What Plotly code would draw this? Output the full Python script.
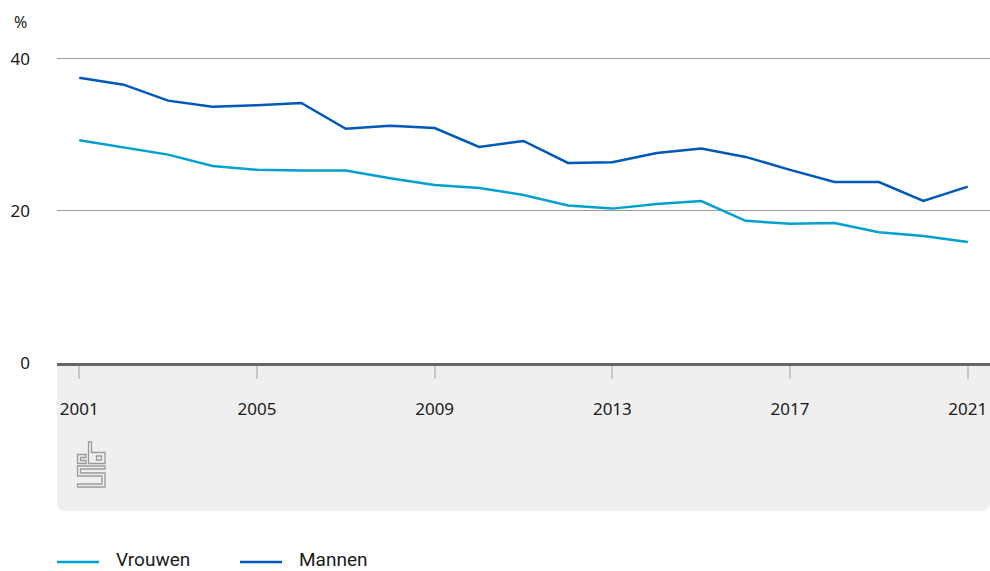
import plotly.graph_objects as go

# Data
jaren = list(range(2001, 2022))
vrouwen = [29.3, 28.3, 27.4, 25.9, 25.4, 25.3, 25.3, 24.3, 23.4, 23.0, 22.1,
           20.7, 20.3, 20.9, 21.3, 18.7, 18.3, 18.4, 17.2, 16.7, 15.9]
mannen = [37.5, 36.6, 34.5, 33.7, 33.9, 34.2, 30.8, 31.2, 30.9, 28.4, 29.2,
          26.3, 26.4, 27.6, 28.2, 27.1, 25.4, 23.8, 23.8, 21.3, 23.2]
x_ticks = [2001, 2005, 2009, 2013, 2017, 2021]
y_ticks = [0, 20, 40]
series = [("Vrouwen", vrouwen), ("Mannen", mannen)]

COR_VROUWEN = "#00a1cd"
COR_MANNEN = "#0058b8"
cores = [COR_VROUWEN, COR_MANNEN]

# Área do gráfico em pixels
W, H = 990, 571
L, R, B = 57, 990, 363
Y_MAX = 40.5
T = round(B - Y_MAX * 7.6)


def px(x):
    return (x - L) / (R - L)


def py(y):
    return (B - y) / (B - T)


def pad(cmds):
    # lista de (letra, x, y) em pixels -> path em coordenadas paper
    return " ".join(f"{c} {px(x):.5f},{py(y):.5f}" for c, x, y in cmds) + " Z"


fig = go.Figure()
for (nome, valores), cor in zip(series, cores):
    fig.add_trace(go.Scatter(x=jaren, y=valores, name=nome, mode="lines",
                             line=dict(color=cor, width=2.5)))

shapes = []
# Painel cinza com cantos arredondados embaixo
r = 8
panel = (f"M {px(L):.5f},{py(B):.5f} L {px(R):.5f},{py(B):.5f} "
         f"L {px(R):.5f},{py(511 - r):.5f} Q {px(R):.5f},{py(511):.5f} {px(R - r):.5f},{py(511):.5f} "
         f"L {px(L + r):.5f},{py(511):.5f} Q {px(L):.5f},{py(511):.5f} {px(L):.5f},{py(511 - r):.5f} Z")
shapes.append(dict(type="path", path=panel, xref="paper", yref="paper",
                   fillcolor="#efefef", line=dict(width=0), layer="below"))

# Logo CBS (aproximado)
logo = [
    [("M", 86, 454.5), ("L", 77.5, 454.5), ("L", 77.5, 463.5), ("L", 86, 463.5),
     ("L", 86, 460.5), ("L", 80.5, 460.5), ("L", 80.5, 457.5), ("L", 86, 457.5)],
    [("M", 88.5, 442), ("L", 91.5, 442), ("L", 91.5, 452.5), ("L", 105, 452.5),
     ("L", 105, 463.5), ("L", 88.5, 463.5)],
    [("M", 96.5, 456), ("L", 101.5, 456), ("L", 101.5, 460), ("L", 96.5, 460)],
    [("M", 77.5, 466), ("L", 105, 466), ("L", 105, 469), ("L", 80.5, 469),
     ("L", 80.5, 473), ("L", 105, 473), ("L", 105, 487), ("L", 77.5, 487),
     ("L", 77.5, 484), ("L", 102, 484), ("L", 102, 476), ("L", 77.5, 476)],
]
for p in logo:
    shapes.append(dict(type="path", path=pad(p), xref="paper", yref="paper",
                       line=dict(color="#9a9a9a", width=1.3), layer="above"))

# Legenda manual (linha + texto)
annotations = [dict(text="%", x=px(20), y=py(22), xref="paper", yref="paper",
                    showarrow=False, xanchor="center", yanchor="middle",
                    font=dict(size=16))]
leg_x = [57, 240]
leg_y = 559
for (nome, _), cor, x0 in zip(series, cores, leg_x):
    shapes.append(dict(type="line", xref="paper", yref="paper",
                       x0=px(x0), x1=px(x0 + 42), y0=py(562), y1=py(562),
                       line=dict(color=cor, width=2.5)))
    annotations.append(dict(text=nome, x=px(x0 + 58), y=py(leg_y), xref="paper", yref="paper",
                            showarrow=False, xanchor="left", yanchor="middle", borderpad=0,
                            font=dict(size=19, family="Roboto, sans-serif", color="#1a1a1a")))

fig.update_layout(
    width=W, height=H,
    margin=dict(l=L, r=W - R, t=T, b=H - B, pad=0),
    paper_bgcolor="white", plot_bgcolor="white",
    font=dict(family="Noto Sans, sans-serif", size=17, color="#1a1a1a"),
    shapes=shapes,
    annotations=annotations,
    showlegend=False,
)

fig.update_xaxes(range=[2000.5, 2021.5], tickvals=x_ticks, showgrid=False,
                 showline=True, linecolor="#666666", linewidth=3,
                 ticks="outside", ticklen=13, tickcolor="#c8c8c8", tickwidth=1.5,
                 ticklabelstandoff=16, zeroline=False, automargin=False)
fig.update_yaxes(range=[0, Y_MAX], tickvals=y_ticks, showgrid=True, gridcolor="#999999",
                 gridwidth=1, zeroline=False, showline=False, ticks="",
                 ticklabelstandoff=26, automargin=False)

fig.write_html("out.html", config={"displayModeBar": False},
               post_script="document.body.style.margin='0';document.body.style.overflow='hidden';")
